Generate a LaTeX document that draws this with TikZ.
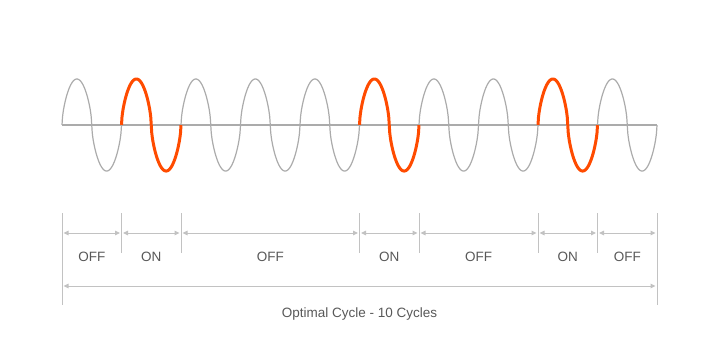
\documentclass[tikz,border=0pt]{standalone}
\usepackage{fontspec}
\setmainfont{Liberation Sans}
\usetikzlibrary{arrows.meta}
\definecolor{waveGray}{HTML}{ABABAB}
\definecolor{onRed}{HTML}{FF4B00}
\definecolor{dimGray}{HTML}{C2C2C2}
\definecolor{textGray}{HTML}{585858}
\tikzset{
  wave/.style={waveGray, line width=1.2pt},
  onwave/.style={onRed, line width=3pt},
  dimline/.style={dimGray, line width=1pt},
  dimarrow/.style={dimGray, line width=1pt, {Triangle[length=5pt,width=4.5pt]}-{Triangle[length=5pt,width=4.5pt]}, shorten <=1.5pt, shorten >=1.5pt},
  lbl/.style={textGray, font=\fontsize{13.5}{15}\selectfont, inner sep=0pt}
}

\begin{document}
\begin{tikzpicture}[x=1pt,y=-1pt]
\useasboundingbox (0,0) rectangle (720,360);
\pgfmathsetmacro{\per}{59.5}
\pgfmathsetmacro{\amp}{46}
% signal, one half wave at a time
\coordinate (w0) at (62,125);
\coordinate (w1) at (657,125);
\draw[wave] (w0)--(w1);
\foreach \k [evaluate=\k as \sg using {1-2*mod(\k,2)}] in {0,...,19}
  \draw[wave, domain=0:180, variable=\t, samples=60] plot({62+\per/2*(\k+\t/180)}, {125-\sg*\amp*pow(abs(sin(\t))+0.0001,0.6)});
\foreach \k [evaluate=\k as \sg using {1-2*mod(\k,2)}] in {2,3,10,11,16,17}
  \draw[onwave, domain=0:180, variable=\t, samples=60] plot({62+\per/2*(\k+\t/180)}, {125-\sg*\amp*pow(abs(sin(\t))+0.0001,0.6)});
% ticks
\foreach \k/\n in {0/0,1/1,2/2,5/3,6/4,8/5,9/6,10/7} {
  \coordinate (t\n) at ({62+\per*\k},213);
  \coordinate (b\n) at ({62+\per*\k},253);
  \coordinate (a\n) at ({62+\per*\k},233);
}
\coordinate (b0) at (62,305);
\coordinate (b7) at (657,305);
\coordinate (c0) at (62,286);
\coordinate (c7) at (657,286);
\foreach \n in {0,...,7}
  \draw[dimline] (t\n) -- (b\n);
% phases
\foreach \i/\j/\txt in {0/1/OFF,1/2/ON,2/3/OFF,3/4/ON,4/5/OFF,5/6/ON,6/7/OFF}
  \draw[dimarrow] (a\i) -- (a\j) node[lbl, midway, anchor=base, yshift=-28pt] {\txt};
\draw[dimarrow] (c0) -- (c7) node[lbl, midway, anchor=base, yshift=-31pt] {Optimal Cycle - 10 Cycles};
\end{tikzpicture}
\end{document}
